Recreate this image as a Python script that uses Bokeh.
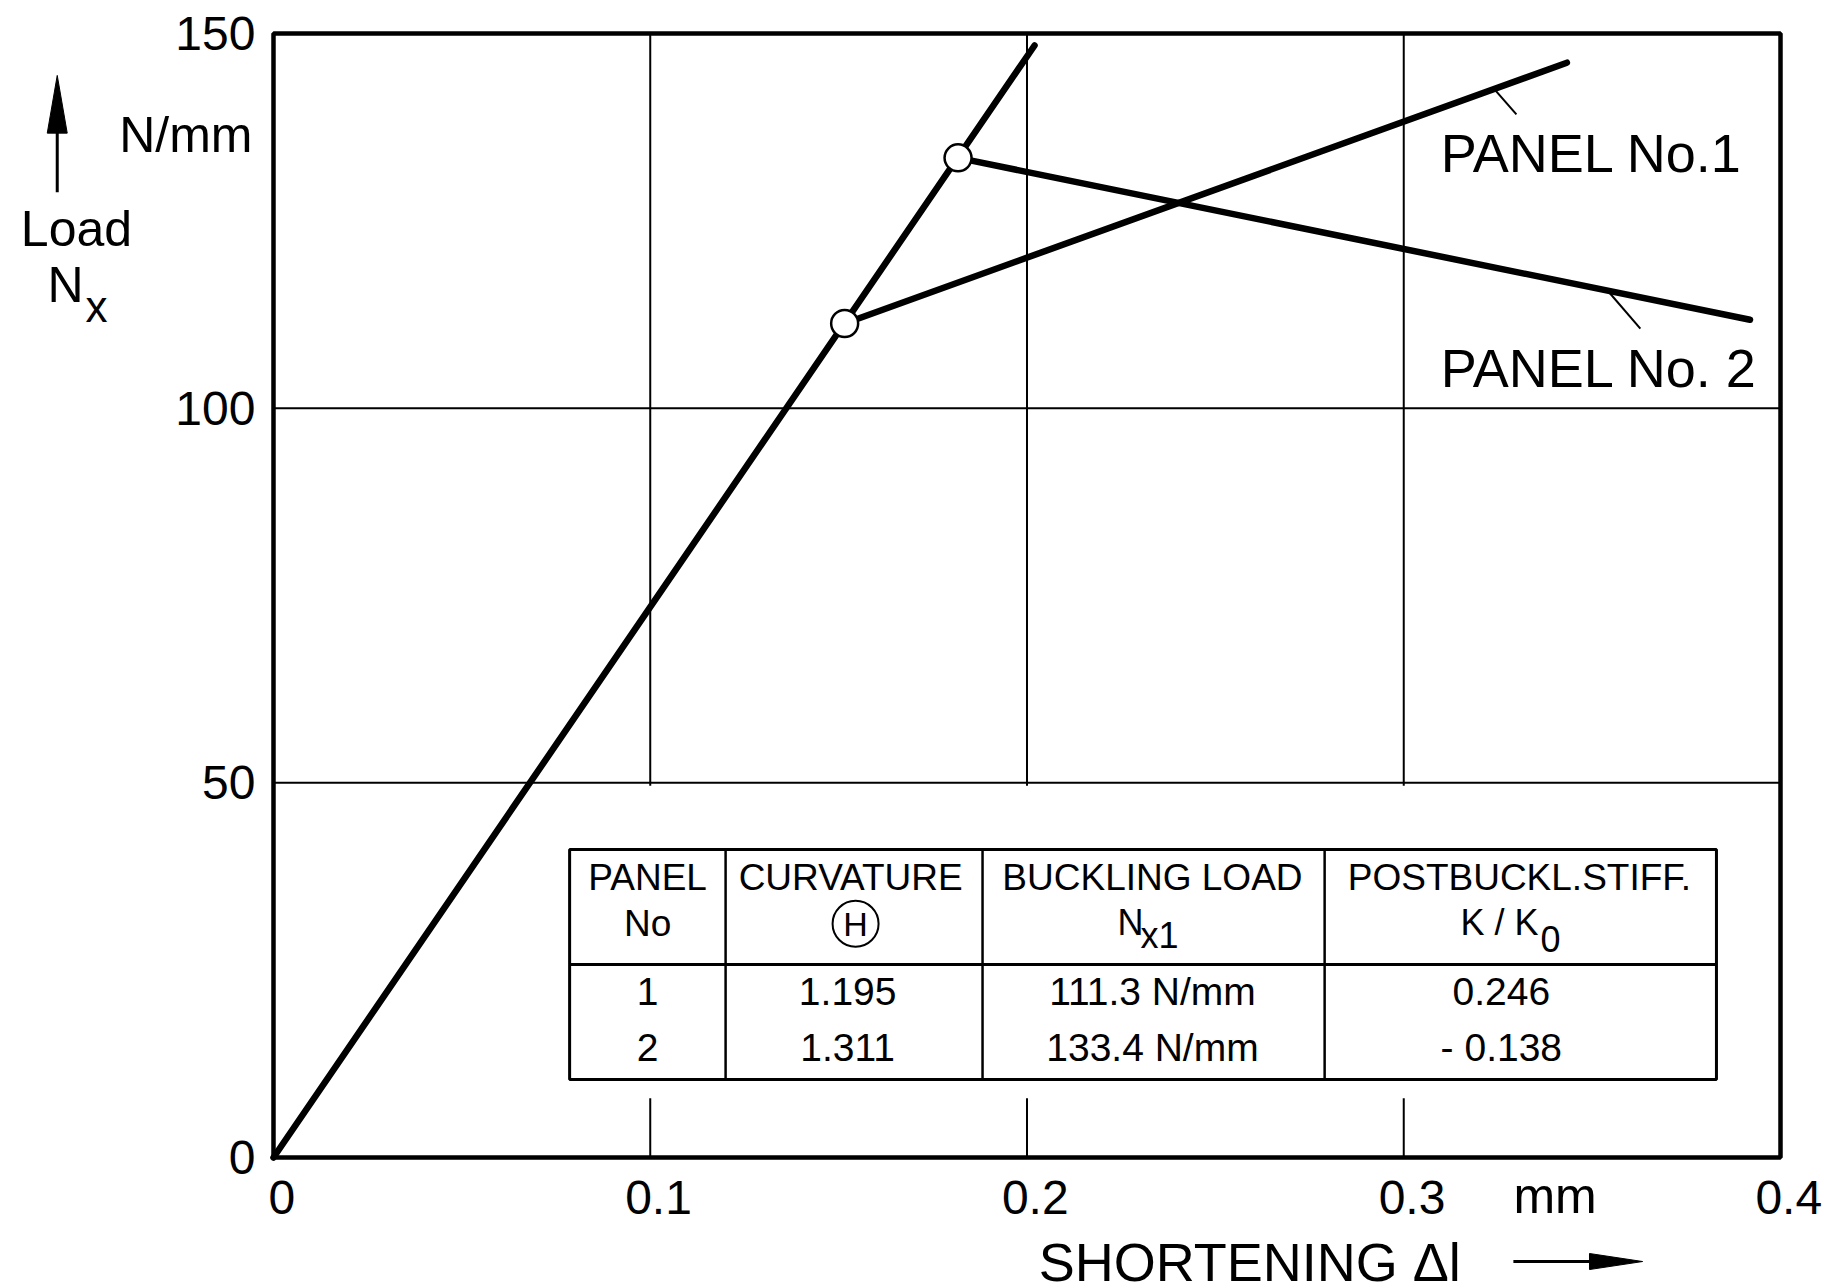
from bokeh.plotting import figure
from bokeh.models import Range1d, ColumnDataSource
from bokeh.core.properties import value
from bokeh.embed import file_html
from bokeh.resources import INLINE

# ---- data -----------------------------------------------------------------
# pre-buckling (linear) branch common to both panels
elastic_shortening = [0.0, 0.202]        # mm
elastic_load = [0.0, 148.4]              # N/mm

# buckling points and post-buckling branches
panel_no = ["1", "2"]
curvature = ["1.195", "1.311"]
buckling_load = [111.3, 133.4]           # N/mm
buckling_shortening = [0.1516, 0.1817]   # mm
stiffness_ratio = ["0.246", "- 0.138"]
post_end_shortening = [0.3433, 0.3919]   # mm
post_end_load = [146.1, 111.8]           # N/mm

x_ticks = [0.0, 0.1, 0.2, 0.3, 0.4]
x_tick_labels = ["0", "0.1", "0.2", "0.3", "0.4"]
y_ticks = [0, 50, 100, 150]
y_tick_labels = ["0", "50", "100", "150"]

FONT = "Liberation Sans"
X0, X1, Y0, Y1 = 0.0, 0.4, 0.0, 150.0

# the data window sits inside a wider canvas range so that the axis
# annotations around it can be drawn in the same coordinates
p = figure(width=1839, height=1288, output_backend="svg", toolbar_location=None,
           x_range=Range1d(-0.07246, 0.41566), y_range=Range1d(-17.48, 154.40),
           x_axis_location=None, y_axis_location=None, min_border=0)
p.background_fill_color = "white"
p.border_fill_color = "white"
p.outline_line_color = None
p.grid.visible = False

# ---- grid -------------------------------------------------------------------
gx = x_ticks[1:-1]
gy = y_ticks[1:-1]
p.segment(x0=gx, y0=[Y0] * len(gx), x1=gx, y1=[Y1] * len(gx),
          line_color="black", line_width=2)
p.segment(x0=[X0] * len(gy), y0=gy, x1=[X1] * len(gy), y1=gy,
          line_color="black", line_width=2)

# ---- table block (white ground hides the grid behind it) -------------------
tab_l, tab_r = 0.0786, 0.3830
tab_top, tab_sep, tab_bot = 41.1, 25.76, 10.41
col_div = [0.1200, 0.1882, 0.2790]
p.quad(left=[tab_l - 0.004], right=[tab_r + 0.004], top=[49.6], bottom=[7.9],
       fill_color="white", line_color=None)
p.quad(left=[tab_l], right=[tab_r], top=[tab_top], bottom=[tab_bot],
       fill_color=None, line_color="black", line_width=3)
p.segment(x0=[tab_l], y0=[tab_sep], x1=[tab_r], y1=[tab_sep],
          line_color="black", line_width=3)
p.segment(x0=col_div, y0=[tab_top] * 3, x1=col_div, y1=[tab_bot] * 3,
          line_color="black", line_width=2.5)

mid = dict(text_font=value(FONT), text_color="black", text_baseline="middle")
p.text(x=[0.0993, 0.1532, 0.2333, 0.3307], y=[37.4] * 4,
       text=["PANEL", "CURVATURE", "BUCKLING LOAD", "POSTBUCKL.STIFF."],
       text_font_size="37px", text_align="center", **mid)
p.text(x=[0.0993], y=[31.2], text=["No"], text_font_size="37px",
       text_align="center", **mid)
# circled H
p.scatter(x=[0.1545], y=[31.2], size=46, marker="circle", fill_color=None,
          line_color="black", line_width=2)
p.text(x=[0.1545], y=[31.2], text=["H"], text_font_size="34px",
       text_align="center", **mid)
# N_x1 and K/K_0
p.text(x=[0.2240], y=[31.4], text=["N"], text_font_size="36px",
       text_align="left", **mid)
p.text(x=[0.2301], y=[29.6], text=["x1"], text_font_size="36px",
       text_align="left", **mid)
p.text(x=[0.3358], y=[31.4], text=["K / K"], text_font_size="36px",
       text_align="right", **mid)
p.text(x=[0.3363], y=[29.2], text=["0"], text_font_size="36px",
       text_align="left", **mid)

rows = ColumnDataSource(dict(
    y=[22.1, 14.7],
    panel=panel_no,
    curv=curvature,
    load=[f"{v:.1f} N/mm" for v in buckling_load],
    stiff=stiffness_ratio,
))
cell = dict(source=rows, text_font=value(FONT), text_font_size="39px",
            text_color="black", text_align="center", text_baseline="middle")
p.text(x=0.0993, y="y", text="panel", **cell)
p.text(x=0.1524, y="y", text="curv", **cell)
p.text(x=0.2333, y="y", text="load", **cell)
p.text(x=0.3259, y="y", text="stiff", **cell)

# ---- curves ----------------------------------------------------------------
p.line(elastic_shortening, elastic_load, line_color="black", line_width=6.5,
       line_cap="round")
for i in range(2):
    p.line([buckling_shortening[i], post_end_shortening[i]],
           [buckling_load[i], post_end_load[i]],
           line_color="black", line_width=6.5, line_cap="round")
p.scatter(buckling_shortening, buckling_load, size=27, marker="circle",
          fill_color="white", line_color="black", line_width=2.5)

# curve labels with leaders
p.segment(x0=[0.3238, 0.3546], y0=[142.7, 115.4], x1=[0.3299, 0.3628],
          y1=[139.2, 110.6], line_color="black", line_width=2)
p.text(x=[0.3098, 0.3098], y=[134.1, 105.4], text=["PANEL No.1", "PANEL No. 2"],
       text_font_size="54px", text_align="left", **mid)

# ---- frame and tick labels ----------------------------------------------------
p.quad(left=[X0], right=[X1], bottom=[Y0], top=[Y1], fill_color=None,
       line_color="black", line_width=4.5)
p.text(x=[t + 0.0022 for t in x_ticks], y=[-5.3] * len(x_ticks),
       text=x_tick_labels, text_font_size="48px", text_align="center", **mid)
p.text(x=[-0.0048] * len(y_ticks), y=y_ticks, text=y_tick_labels,
       text_font_size="48px", text_align="right", **mid)

# ---- axis titles ---------------------------------------------------------------
p.text(x=[-0.00557], y=[136.5], text=["N/mm"], text_font_size="50px",
       text_align="right", **mid)
p.text(x=[-0.0523], y=[123.85], text=["Load"], text_font_size="50px",
       text_align="center", **mid)
p.text(x=[-0.0600], y=[116.5], text=["N"], text_font_size="50px",
       text_align="left", **mid)
p.text(x=[-0.0499], y=[113.6], text=["x"], text_font_size="44px",
       text_align="left", **mid)
p.text(x=[0.3291], y=[-5.1], text=["mm"], text_font_size="50px",
       text_align="left", **mid)
p.text(x=[0.2031], y=[-13.88], text=["SHORTENING \u0394l"],
       text_font_size="54px", text_align="left", **mid)

# direction arrows: load (up) and shortening (right)
p.segment(x0=[-0.0574, 0.3291], y0=[128.8, -13.88], x1=[-0.0574, 0.3500],
          y1=[137.5, -13.88], line_color="black", line_width=3)
p.patches(xs=[[-0.0574 - 0.00265, -0.0574, -0.0574 + 0.00265],
              [0.3493, 0.3634, 0.3493]],
          ys=[[136.7, 144.4, 136.7],
              [-13.88 + 1.07, -13.88, -13.88 - 1.07]],
          fill_color="black", line_color="black", line_width=1)

open("out.html", "w").write(file_html(p, INLINE))
